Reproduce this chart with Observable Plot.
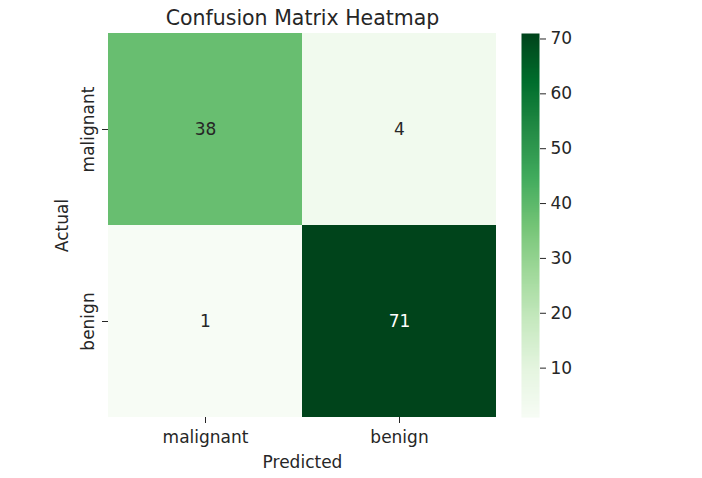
<!DOCTYPE html>
<html>
<head>
<meta charset="utf-8">
<script src="https://cdn.jsdelivr.net/npm/d3@7"></script>
<script src="https://cdn.jsdelivr.net/npm/@observablehq/plot@0.6"></script>
<style>
  html, body { margin: 0; padding: 0; background: white; }
  #chart { position: relative; width: 702px; height: 478px; }
  #chart > svg { position: absolute; left: 0; top: 0; }
</style>
</head>
<body>
<div id="chart"></div>
<script>
// ---- data ----
const actualLabels = ["malignant", "benign"];
const predictedLabels = ["malignant", "benign"];
const counts = [
  [38, 4],
  [1, 71]
];
const colorTicks = [10, 20, 30, 40, 50, 60, 70];
const colorDomain = [1, 71];
const titleText = "Confusion Matrix Heatmap";
const xLabel = "Predicted";
const yLabel = "Actual";

// ColorBrewer Greens (matplotlib "Greens" stops)
const greens9 = ["#f7fcf5", "#e5f5e0", "#c7e9c0", "#a1d99b", "#74c476", "#41ab5d", "#238b45", "#006d2c", "#00441b"];
const greensInterp = d3.piecewise(d3.interpolateRgb, greens9);

const cells = [];
actualLabels.forEach((a, i) => predictedLabels.forEach((p, j) => cells.push({actual: a, predicted: p, value: counts[i][j]})));

const font = "DejaVu Sans, sans-serif";
const W = 702, H = 478;
const frame = {left: 108, right: 496, top: 33, bottom: 417};
const textColor = "#262626";

const colorOpt = {type: "linear", domain: colorDomain, interpolate: greensInterp};

const main = Plot.plot({
  width: W, height: H,
  marginLeft: frame.left, marginRight: W - frame.right,
  marginTop: frame.top, marginBottom: H - frame.bottom,
  style: {fontFamily: font, fontSize: "17px", color: textColor, background: "transparent", overflow: "visible"},
  x: {type: "band", domain: predictedLabels, padding: 0, label: null},
  y: {type: "band", domain: actualLabels, padding: 0, label: null},
  color: colorOpt,
  marks: [
    Plot.cell(cells, {x: "predicted", y: "actual", fill: "value", inset: 0, shapeRendering: "crispEdges"}),
    Plot.text(cells.filter(d => d.value <= 50), {x: "predicted", y: "actual", text: d => String(d.value), fill: textColor, fontSize: 17}),
    Plot.text(cells.filter(d => d.value > 50), {x: "predicted", y: "actual", text: d => String(d.value), fill: "white", fontSize: 17}),
    Plot.axisX({anchor: "bottom", tickSize: 6, tickPadding: 7, fontSize: 17, label: null, stroke: textColor}),
    Plot.axisY({anchor: "left", tickSize: 6, tickFormat: () => "", label: null, stroke: textColor}),
    Plot.text(actualLabels, {y: d => d, frameAnchor: "left", dx: -20, rotate: -90, textAnchor: "middle", lineAnchor: "middle", fontSize: 17, fill: textColor}),
    Plot.text([xLabel], {frameAnchor: "bottom", dy: 50, textAnchor: "middle", fontSize: 17, fill: textColor}),
    Plot.text([yLabel], {frameAnchor: "left", dx: -46, rotate: -90, textAnchor: "middle", lineAnchor: "middle", fontSize: 17, fill: textColor}),
    Plot.text([titleText], {frameAnchor: "top", dy: -23, textAnchor: "middle", fontSize: 20.5, fill: textColor})
  ]
});

const cbar = Plot.plot({
  width: W, height: H,
  marginLeft: 521, marginRight: W - 539,
  marginTop: frame.top, marginBottom: H - frame.bottom,
  style: {fontFamily: font, fontSize: "17px", color: textColor, background: "transparent", overflow: "visible"},
  x: {domain: [0, 1], axis: null},
  y: {type: "linear", domain: colorDomain, axis: null},
  color: colorOpt,
  marks: [
    Plot.raster({fill: (x, y) => y, x1: 0, x2: 1, y1: colorDomain[0], y2: colorDomain[1], width: 1, height: 400}),
    Plot.axisY({anchor: "right", ticks: colorTicks, tickSize: 6, tickPadding: 5, fontSize: 17, label: null, stroke: textColor})
  ]
});

const el = document.getElementById("chart");
el.appendChild(main);
el.appendChild(cbar);
</script>
</body>
</html>
